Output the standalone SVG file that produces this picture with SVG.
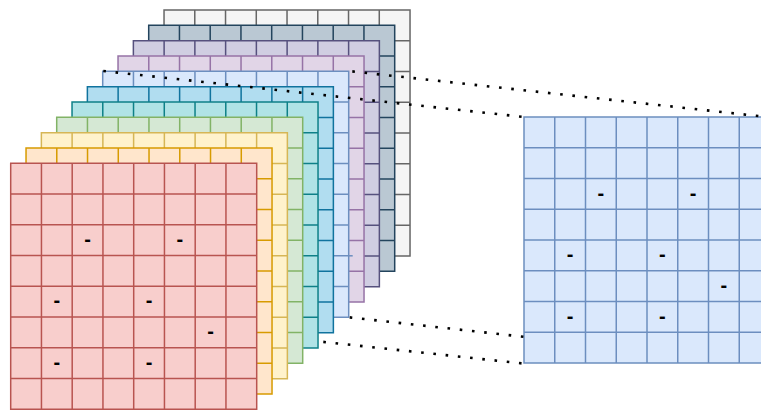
<svg xmlns="http://www.w3.org/2000/svg" xmlns:xlink="http://www.w3.org/1999/xlink" width="761" height="410" viewBox="0 0 761 410">
<style>
.g{stroke-width:1.5}
.red{fill:#f8cecc;stroke:#b85450}
.orange{fill:#ffe6cc;stroke:#d79b00}
.yellow{fill:#fff2cc;stroke:#d6b656}
.green{fill:#d5e8d4;stroke:#82b366}
.teal{fill:#b0e3e6;stroke:#0e8088}
.blue{fill:#b1ddf0;stroke:#10739e}
.lblue{fill:#dae8fc;stroke:#6c8ebf}
.lpurple{fill:#e1d5e7;stroke:#9673a6}
.purple{fill:#d0cee2;stroke:#56517e}
.gblue{fill:#bac8d3;stroke:#23445d}
.gray{fill:#f5f5f5;stroke:#666666}
.d{font-family:"Liberation Sans",Arial,sans-serif;font-size:20px;font-weight:bold;fill:#000;text-anchor:middle}
.c{fill:none;stroke:#000;stroke-width:2.6;stroke-dasharray:2.6 9.7}
</style>
<defs>
<path id="grid" d="M0 0H246V246H0Z M30.75 0V246 M61.5 0V246 M92.25 0V246 M123 0V246 M153.75 0V246 M184.5 0V246 M215.25 0V246 M0 30.75H246 M0 61.5H246 M0 92.25H246 M0 123H246 M0 153.75H246 M0 184.5H246 M0 215.25H246"/>
<g id="dashes">
<text class="d" x="76.9" y="82.6">-</text>
<text class="d" x="169.1" y="82.6">-</text>
<text class="d" x="46.1" y="144.1">-</text>
<text class="d" x="138.4" y="144.1">-</text>
<text class="d" x="199.9" y="174.9">-</text>
<text class="d" x="46.1" y="205.6">-</text>
<text class="d" x="138.4" y="205.6">-</text>
</g>
</defs>
<g id="layer-gray" transform="translate(164.03,9.97)"><use xlink:href="#grid" class="g gray"/></g>
<g id="layer-grayblue" transform="translate(148.7,25.3)"><use xlink:href="#grid" class="g gblue"/></g>
<g id="layer-purple" transform="translate(133.37,40.63)"><use xlink:href="#grid" class="g purple"/></g>
<g id="layer-lightpurple" transform="translate(118.03,55.97)"><use xlink:href="#grid" class="g lpurple"/></g>
<g id="layer-lightblue" transform="translate(102.7,71.3)"><use xlink:href="#grid" class="g lblue"/><path d="M246 184.5H250" class="g lblue"/></g>
<g id="layer-blue" transform="translate(87.37,86.63)"><use xlink:href="#grid" class="g blue"/></g>
<g id="layer-teal" transform="translate(72.03,101.97)"><use xlink:href="#grid" class="g teal"/></g>
<g id="layer-green" transform="translate(56.7,117.3)"><use xlink:href="#grid" class="g green"/></g>
<g id="layer-yellow" transform="translate(41.37,132.63)"><use xlink:href="#grid" class="g yellow"/></g>
<g id="layer-orange" transform="translate(26.03,147.97)"><use xlink:href="#grid" class="g orange"/></g>
<g id="layer-red" transform="translate(10.7,163.3)"><use xlink:href="#grid" class="g red"/><use xlink:href="#dashes"/></g>
<g id="output-map" transform="translate(524,117)"><use xlink:href="#grid" class="g lblue"/><use xlink:href="#dashes"/></g>
<g id="connectors">
<path class="c" d="M103.3 71 L524 117"/>
<path class="c" d="M352.3 71.4 L770 117.3"/>
<path class="c" d="M349.7 317.4 L524 336.8"/>
<path class="c" d="M323.3 341.9 L524 363.6"/>
</g>
</svg>
